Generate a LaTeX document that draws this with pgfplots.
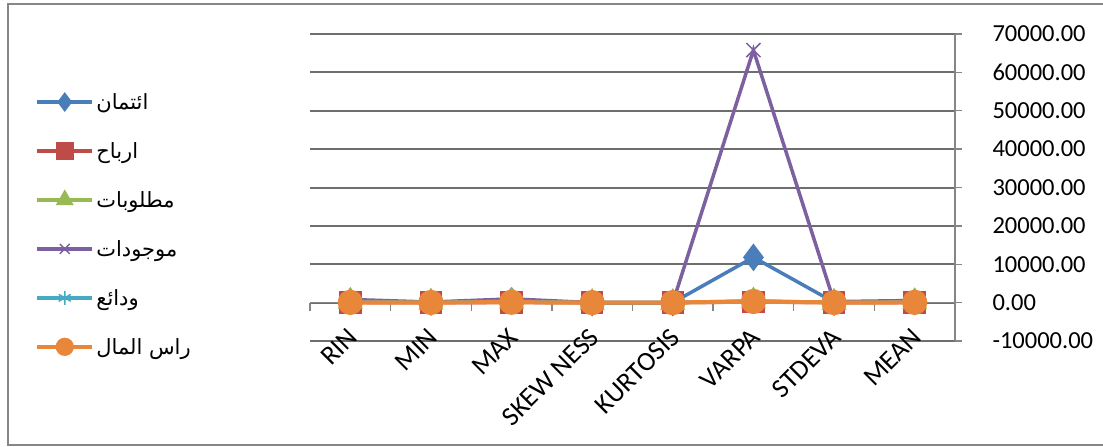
\documentclass[border=0pt]{standalone}
\usepackage{pgfplots}
\pgfplotsset{compat=1.18}
\usepackage{fontspec}
\setmainfont{Carlito}
\newfontfamily\arabicfont[Script=Arabic]{DejaVu Sans}
\TeXXeTstate=1

\definecolor{sBlue}{HTML}{4A7EBB}
\definecolor{sRed}{HTML}{BE4B48}
\definecolor{sGreen}{HTML}{98B954}
\definecolor{sPurple}{HTML}{7D60A0}
\definecolor{sAqua}{HTML}{46AAC5}
\definecolor{sOrange}{HTML}{E8863A}
\definecolor{frameGray}{HTML}{868686}
\definecolor{gridGray}{HTML}{6E6E6E}

\begin{document}
\begin{tikzpicture}
\useasboundingbox (0,0) rectangle (1103pt,447pt);
\draw[frameGray, line width=1.6pt] (8pt,2pt) rectangle (1112pt,443pt);
\begin{axis}[
  at={(310pt,106pt)}, anchor=south west,
  scale only axis, width=645pt, height=307pt,
  xmin=-0.5, xmax=7.5,
  ymin=-10000, ymax=70000,
  ytick={-10000,0,10000,20000,30000,40000,50000,60000,70000},
  scaled y ticks=false,
  xtick={0,...,7},
  xticklabels={RIN,MIN,MAX,SKEW NESS,KURTOSIS,VARPA,STDEVA,MEAN},
  minor xtick={-0.5,0.5,...,7.5},
  axis y line*=right,
  axis x line*=middle,
  axis line style={frameGray, line width=1.4pt},
  tick align=outside,
  major tick length=7pt,
  minor tick length=8pt,
  major x tick style={draw=none},
  minor x tick style={frameGray, line width=1.4pt},
  y tick style={frameGray, line width=1.4pt},
  ymajorgrids=true,
  y grid style={draw=gridGray, line width=2pt},
  /pgf/number format/assume math mode=true,
  y tick label style={/pgf/number format/fixed, /pgf/number format/fixed zerofill,
    /pgf/number format/precision=2, /pgf/number format/1000 sep={}},
  yticklabel style={anchor=west, font=\fontsize{24.5}{25}\selectfont, xshift=27pt},
  xticklabel style={xshift=-4pt, yshift=-17pt, inner sep=0pt, rotate=45, anchor=north east,
    font=\fontsize{27}{27}\selectfont},
  legend style={at={(axis description cs:-0.4264,0.814)}, anchor=north west,
    draw=none, fill=none, font=\arabicfont\fontsize{21}{22}\selectfont,
    row sep=27.5pt, inner sep=0pt},
  legend cell align=left,
  legend image code/.code={\draw[mark repeat=2,mark phase=2,#1,mark size=7pt] plot coordinates {(0pt,0pt) (27.5pt,0pt) (55pt,0pt)};},
  every axis plot/.append style={line width=3.5pt},
]
% credit
\addplot[sBlue, mark=diamond*, mark size=11pt, mark options={solid, fill=sBlue}] coordinates {
  (0,380) (1,120) (2,500) (3,0.5) (4,-1.2) (5,11800) (6,108.6) (7,290)};
% profits
\addplot[sRed, mark=square*, mark size=9.5pt, mark options={solid, fill=sRed}] coordinates {
  (0,40) (1,5) (2,45) (3,0.8) (4,0.6) (5,180) (6,13.4) (7,22)};
% liabilities
\addplot[sGreen, mark=triangle*, mark size=11pt, mark options={solid, fill=sGreen}] coordinates {
  (0,250) (1,60) (2,310) (3,0.4) (4,-0.9) (5,450) (6,21) (7,170)};
% assets
\addplot[sPurple, mark=x, mark size=10pt, mark options={solid, line width=1.5pt}] coordinates {
  (0,820) (1,150) (2,970) (3,0.3) (4,-1.1) (5,65800) (6,256.5) (7,560)};
% deposits
\addplot[sAqua, mark=asterisk, mark size=10pt, mark options={solid, line width=1.5pt}] coordinates {
  (0,300) (1,90) (2,390) (3,0.2) (4,-1.0) (5,400) (6,20) (7,230)};
% capital
\addplot[sOrange, line width=4.2pt, mark=*, mark size=10.5pt, mark options={solid, fill=sOrange}] coordinates {
  (0,60) (1,40) (2,100) (3,0.1) (4,-0.5) (5,300) (6,17) (7,70)};
\legend{\beginR ائتمان\endR, \beginR ارباح\endR, \beginR مطلوبات\endR, \beginR موجودات\endR, \beginR ودائع\endR, \beginR راس المال\endR}
\end{axis}
\end{tikzpicture}
\end{document}
